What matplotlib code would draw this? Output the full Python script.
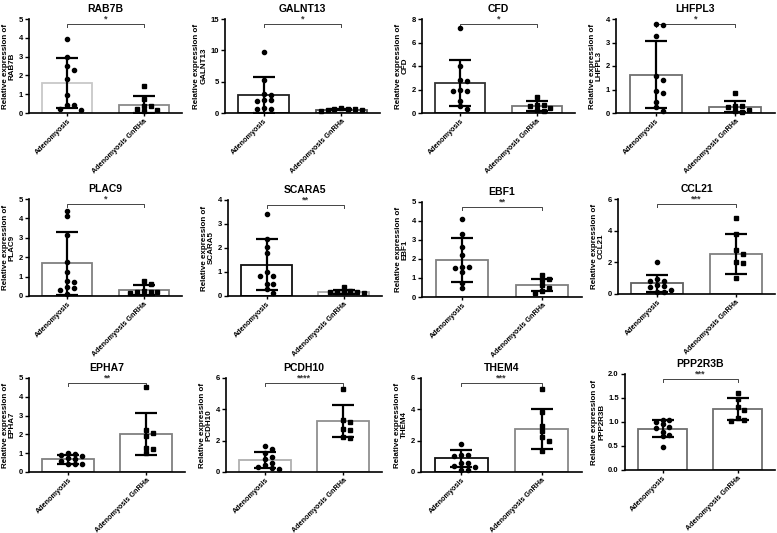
import numpy as np
import matplotlib.pyplot as plt

plt.rcParams['font.family'] = ['Liberation Sans', 'DejaVu Sans']
plt.rcParams['font.weight'] = 'bold'
plt.rcParams['axes.labelweight'] = 'bold'
plt.rcParams['axes.titleweight'] = 'bold'

genes = ['RAB7B', 'GALNT13', 'CFD', 'LHFPL3', 'PLAC9', 'SCARA5',
         'EBF1', 'CCL21', 'EPHA7', 'PCDH10', 'THEM4', 'PPP2R3B']
groups = ['Adenomyosis', 'Adenomyosis GnRHa']
stars = ['*', '*', '*', '*', '*', '**', '**', '***', '**', '****', '***', '***']
y_max = [5, 15, 8, 4, 5, 4, 5, 6, 5, 6, 6, 2]
y_step = [1, 5, 2, 1, 1, 1, 1, 2, 1, 2, 2, 0.5]

# individual samples
adeno_values = [
    [3.93, 3.0, 2.52, 2.27, 1.8, 0.97, 0.43, 0.42, 0.22, 0.18],
    [9.8, 5.2, 3.0, 2.9, 2.1, 2.0, 1.9, 0.75, 0.7, 0.65],
    [7.25, 4.0, 2.8, 2.75, 2.0, 1.9, 1.85, 1.05, 0.62, 0.38],
    [3.8, 3.73, 3.27, 1.57, 1.4, 0.94, 0.85, 0.47, 0.26, 0.07],
    [4.4, 4.1, 3.15, 1.75, 1.25, 0.77, 0.72, 0.4, 0.45, 0.33, 0.12],
    [3.4, 2.36, 2.05, 1.81, 1.0, 0.84, 0.83, 0.52, 0.5, 0.28, 0.12],
    [4.13, 3.34, 2.65, 2.21, 1.6, 1.58, 1.55, 1.31, 0.73, 0.47],
    [2.02, 0.97, 0.82, 0.8, 0.55, 0.5, 0.45, 0.25, 0.12, 0.1],
    [1.0, 0.98, 0.9, 0.85, 0.72, 0.7, 0.6, 0.45, 0.42, 0.4],
    [1.65, 1.45, 1.2, 0.95, 0.85, 0.57, 0.45, 0.3, 0.25, 0.2],
    [1.78, 1.1, 1.06, 1.02, 0.6, 0.55, 0.4, 0.3, 0.15, 0.1],
    [1.05, 1.04, 0.99, 0.95, 0.9, 0.88, 0.8, 0.72, 0.7, 0.47],
]
gnrha_values = [
    [1.43, 0.72, 0.38, 0.35, 0.2, 0.15, 0.12],
    [0.72, 0.65, 0.6, 0.58, 0.55, 0.5, 0.25],
    [1.32, 0.7, 0.65, 0.6, 0.45, 0.25, 0.2],
    [0.83, 0.3, 0.28, 0.25, 0.12, 0.08, 0.05],
    [0.78, 0.64, 0.22, 0.2, 0.18, 0.2, 0.25],
    [0.36, 0.2, 0.17, 0.15, 0.15, 0.14, 0.17],
    [1.17, 0.94, 0.9, 0.64, 0.45, 0.33, 0.21],
    [4.8, 3.78, 2.8, 2.54, 2.0, 1.97, 0.99],
    [4.52, 2.25, 2.07, 1.93, 1.28, 1.25, 1.0],
    [5.32, 3.3, 3.2, 2.72, 2.68, 2.22, 2.2],
    [5.3, 3.82, 2.95, 2.6, 2.22, 2.0, 1.32],
    [1.61, 1.47, 1.31, 1.25, 1.08, 1.03, 1.05],
]
# bar height (mean) and error bar (SD)
adeno_mean = [1.58, 2.9, 2.53, 1.63, 1.68, 1.3, 1.93, 0.67, 0.67, 0.78, 0.88, 0.86]
adeno_sd = [1.32, 2.9, 1.97, 1.42, 1.62, 1.07, 1.15, 0.55, 0.24, 0.52, 0.53, 0.18]
gnrha_mean = [0.45, 0.55, 0.58, 0.27, 0.3, 0.15, 0.64, 2.54, 2.02, 3.25, 2.75, 1.27]
gnrha_sd = [0.43, 0.12, 0.4, 0.24, 0.26, 0.08, 0.33, 1.25, 1.1, 1.03, 1.27, 0.22]

bar_edges = [('#c8c8c8', '#8a8a8a'), ('#222222', '#555555'), ('#333333', '#777777'),
             ('#707070', '#707070'), ('#808080', '#808080'), ('#111111', '#aaaaaa'),
             ('#808080', '#808080'), ('#606060', '#808080'), ('#808080', '#808080'),
             ('#b0b0b0', '#909090'), ('#111111', '#888888'), ('#707070', '#707070')]

# axes boxes in pixels: left, right, top, bottom
boxes = [(29, 182, 19, 113), (225, 380, 19, 113), (422, 575, 19, 113), (616, 775, 19, 113),
         (29, 182, 199, 296), (228, 382, 200, 296), (422, 582, 202, 297), (618, 775, 199, 294),
         (29, 185, 378, 472), (226, 382, 378, 472), (421, 582, 378, 472), (625, 775, 374, 470)]

W, H = 777, 533
fig = plt.figure(figsize=(W / 100, H / 100), dpi=100)


def swarm_x(vals, center, px_per_x, px_per_y, d=4.0):
    # simple beeswarm: spread points that sit close together
    order = np.argsort(vals)[::-1]
    placed = []
    xs = np.zeros(len(vals))
    for k in order:
        y = vals[k] * px_per_y
        for step in [0, 1, -1, 2, -2, 3, -3, 4, -4]:
            x = step * 1.7 * d
            if all(abs(x - px) > 1.5 * d or abs(y - py) > 1.2 * d for px, py in placed):
                break
        placed.append((x, y))
        xs[k] = center + x / px_per_x
    return xs


for i, gene in enumerate(genes):
    l, r, t, b = boxes[i]
    ax = fig.add_axes([l / W, 1 - b / H, (r - l) / W, (b - t) / H])
    means = [adeno_mean[i], gnrha_mean[i]]
    ax.bar([0, 1], means, width=0.66, color='white', edgecolor=bar_edges[i],
           linewidth=1.3, zorder=1)
    ax.errorbar([0, 1], means, yerr=[adeno_sd[i], gnrha_sd[i]], fmt='none',
                ecolor='black', elinewidth=1.6, capsize=8, capthick=1.6, zorder=3)

    px_x = (r - l) / 2.0
    px_y = (b - t) / y_max[i]
    v1 = np.array(adeno_values[i])
    v2 = np.array(gnrha_values[i])
    ax.plot(swarm_x(v1, 0, px_x, px_y), v1, 'o', color='black', ms=3, zorder=4,
            clip_on=False)
    ax.plot(swarm_x(v2, 1, px_x, px_y), v2, 's', color='black', ms=3, zorder=4,
            clip_on=False)

    ax.set_xlim(-0.5, 1.5)
    ax.set_ylim(0, y_max[i])
    ticks = np.arange(0, y_max[i] + y_step[i] / 2, y_step[i])
    ax.set_yticks(ticks)
    if y_step[i] < 1:
        ax.set_yticklabels([f'{v:.1f}' for v in ticks])
    else:
        ax.set_yticklabels([f'{v:g}' for v in ticks])
    ax.set_xticks([0, 1])
    ax.set_xticklabels(groups, rotation=45, ha='right', rotation_mode='anchor', fontsize=5.2)
    ax.tick_params(axis='y', labelsize=5.5, width=1, length=3, pad=1.5)
    ax.tick_params(axis='x', width=1, length=2.5, pad=1)
    for s in ['top', 'right']:
        ax.spines[s].set_visible(False)
    for s in ['left', 'bottom']:
        ax.spines[s].set_linewidth(1.2)

    ax.set_ylabel(f'Relative expression of\n{gene}', fontsize=5.8, labelpad=2,
                  linespacing=1.0)
    ax.set_title(gene, fontsize=7.5, pad=5)

    # significance bracket
    yb = 0.95 * y_max[i]
    dy = 0.03 * y_max[i]
    ax.plot([0, 0, 1, 1], [yb - dy, yb, yb, yb - dy], color='#444444', lw=0.7,
            clip_on=False)
    ax.text(0.5, yb + 0.005 * y_max[i], stars[i], ha='center', va='bottom',
            fontsize=6.5, color='#333333')

fig.savefig('out.png', dpi=100)
